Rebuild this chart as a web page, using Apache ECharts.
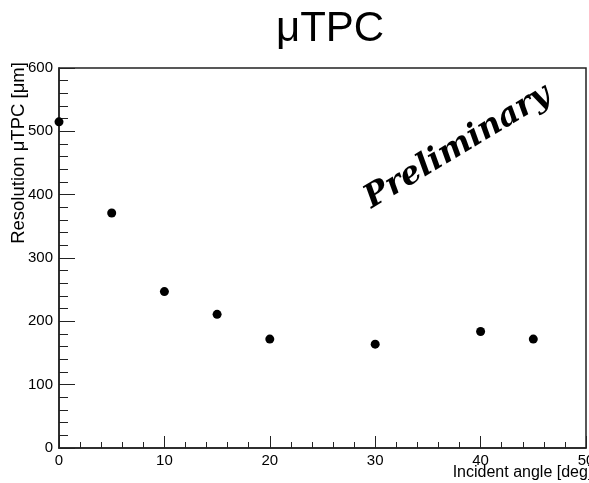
<!DOCTYPE html>
<html>
<head>
<meta charset="utf-8">
<script src="https://cdn.jsdelivr.net/npm/echarts@6/dist/echarts.min.js"></script>
<style>
  html, body { margin: 0; padding: 0; background: #fff; }
</style>
</head>
<body>
<div id="main" style="width: 589px;height:483px;"></div>
<script type="text/javascript">
    // 入射角 (deg) 与 μTPC 分辨率 (μm)
    var angles = [0, 5, 10, 15, 20, 30, 40, 45];
    var resolution = [515, 371, 247, 211, 172, 164, 184, 172];
    var xTicks = [0, 10, 20, 30, 40, 50];
    var yTicks = [0, 100, 200, 300, 400, 500, 600];

    var points = angles.map(function (a, i) {
        return [a, resolution[i]];
    });

    var myChart = echarts.init(document.getElementById('main'));
    var font = 'Liberation Sans, Arial, Helvetica, sans-serif';

    option = {
        animation: false,
        backgroundColor: '#fff',
        title: {
            text: 'μTPC',
            left: 271,
            top: 3,
            textStyle: {
                fontFamily: font,
                fontWeight: 'normal',
                fontSize: 42,
                color: '#000'
            }
        },
        grid: {
            left: 59,
            right: 3,
            top: 68,
            bottom: 35,
            outerBoundsMode: 'none',
            containLabel: false,
            show: true,
            borderColor: '#222',
            borderWidth: 1.5,
            backgroundColor: '#fff'
        },
        graphic: [{
            type: 'text',
            left: 359,
            top: 79,
            rotation: 31 * Math.PI / 180,
            style: {
                text: 'Preliminary',
                font: 'italic bold 32px "DejaVu Serif", serif',
                fill: '#000'
            }
        }],
        xAxis: {
            type: 'value',
            min: xTicks[0],
            max: xTicks[xTicks.length - 1],
            interval: 10,
            name: 'Incident angle [deg]',
            nameLocation: 'middle',
            nameMoveOverlap: false,
            nameGap: 17,
            nameTextStyle: {
                fontFamily: font,
                fontSize: 16,
                color: '#000',
                padding: [0, 0, 0, 400]
            },
            axisLine: { lineStyle: { color: '#222', width: 1.5 } },
            axisTick: { inside: true, length: 12, lineStyle: { color: '#222' } },
            minorTick: { show: true, splitNumber: 5, length: 6, lineStyle: { color: '#222' } },
            axisLabel: { fontFamily: font, fontSize: 15, color: '#000', margin: 5 },
            splitLine: { show: false }
        },
        yAxis: {
            type: 'value',
            min: yTicks[0],
            max: yTicks[yTicks.length - 1],
            interval: 100,
            name: 'Resolution μTPC [μm]',
            nameLocation: 'middle',
            nameMoveOverlap: false,
            nameRotate: 90,
            nameGap: 31,
            nameTextStyle: {
                fontFamily: font,
                fontSize: 18.5,
                color: '#000',
                padding: [0, 0, 0, 210]
            },
            axisLine: { lineStyle: { color: '#222', width: 1.5 } },
            axisTick: { inside: true, length: 16, lineStyle: { color: '#222' } },
            minorTick: { show: true, splitNumber: 5, length: 9, lineStyle: { color: '#222' } },
            axisLabel: { fontFamily: font, fontSize: 15, color: '#000', margin: 6 },
            splitLine: { show: false }
        },
        series: [{
            name: 'μTPC',
            type: 'scatter',
            symbol: 'circle',
            symbolSize: 9,
            itemStyle: { color: '#000', opacity: 1 },
            data: points
        }]
    };
    myChart.setOption(option);
</script>
</body>
</html>
